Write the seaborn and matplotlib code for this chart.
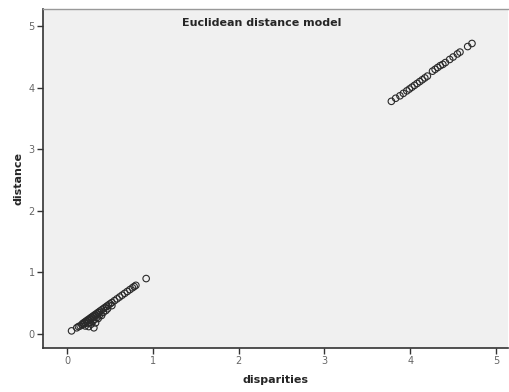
import matplotlib
matplotlib.use("Agg")
import matplotlib.pyplot as plt
import seaborn as sns
import pandas as pd

# Lower cluster (disparities, distance)
lower_x = [0.05, 0.11, 0.13, 0.15, 0.17, 0.18, 0.19, 0.20, 0.21, 0.22, 0.23, 0.24,
           0.25, 0.26, 0.27, 0.28, 0.29, 0.30, 0.31, 0.32, 0.33, 0.34, 0.35, 0.36,
           0.37, 0.38, 0.40, 0.42, 0.44, 0.46, 0.48, 0.50, 0.52, 0.55, 0.58, 0.61,
           0.64, 0.67, 0.70, 0.73, 0.76, 0.78, 0.80, 0.92,
           0.25, 0.31, 0.33, 0.21, 0.28, 0.36, 0.40, 0.24, 0.30, 0.45,
           0.27, 0.32, 0.35, 0.38, 0.42, 0.47, 0.52]
lower_y = [0.05, 0.10, 0.12, 0.13, 0.15, 0.17, 0.16, 0.19, 0.18, 0.21, 0.20, 0.23,
           0.22, 0.25, 0.24, 0.27, 0.26, 0.29, 0.28, 0.31, 0.30, 0.33, 0.32, 0.35,
           0.34, 0.37, 0.39, 0.41, 0.43, 0.45, 0.47, 0.49, 0.51, 0.54, 0.57, 0.60,
           0.63, 0.66, 0.69, 0.72, 0.75, 0.77, 0.79, 0.90,
           0.12, 0.10, 0.18, 0.13, 0.16, 0.25, 0.30, 0.17, 0.21, 0.38,
           0.19, 0.24, 0.27, 0.31, 0.35, 0.41, 0.46]

# Upper cluster
upper_x = [3.78, 3.83, 3.88, 3.92, 3.96, 3.99, 4.02, 4.05, 4.08, 4.11, 4.14, 4.17,
           4.20, 4.26, 4.29, 4.32, 4.35, 4.38, 4.41, 4.46, 4.50, 4.55, 4.58, 4.67, 4.72]
upper_y = [3.78, 3.83, 3.87, 3.91, 3.95, 3.98, 4.01, 4.04, 4.07, 4.10, 4.13, 4.16,
           4.19, 4.27, 4.30, 4.33, 4.36, 4.38, 4.41, 4.46, 4.50, 4.55, 4.58, 4.67, 4.72]

df = pd.DataFrame({
    "disparities": lower_x + upper_x,
    "distance": lower_y + upper_y,
})

sns.set_style("white")
fig = plt.figure(figsize=(5.09, 3.92), dpi=100)
ax = fig.add_axes([0.085, 0.112, 0.913, 0.865])
ax.set_facecolor("#f0f0f0")

sns.scatterplot(data=df, x="disparities", y="distance", ax=ax,
                marker="o", s=22, facecolor="none", edgecolor="#2a2a2a",
                linewidth=0.8)

ax.set_xlim(-0.28, 5.14)
ax.set_ylim(-0.23, 5.28)
ax.set_xticks([0, 1, 2, 3, 4, 5])
ax.set_yticks([0, 1, 2, 3, 4, 5])
ax.tick_params(axis="both", direction="out", length=4, width=1, colors="#333333",
               labelsize=7, labelcolor="#666666", pad=2, bottom=True, left=True)

for side in ["left", "bottom"]:
    ax.spines[side].set_color("#333333")
    ax.spines[side].set_linewidth(1.2)
ax.spines["top"].set_color("#999999")
ax.spines["top"].set_linewidth(1.0)
ax.spines["right"].set_visible(False)

ax.set_xlabel("disparities", fontsize=8, fontweight="bold", labelpad=6)
ax.set_ylabel("distance", fontsize=8, fontweight="bold", labelpad=4)
ax.text(0.469, 0.958, "Euclidean distance model", transform=ax.transAxes,
        ha="center", va="center", fontsize=8, fontweight="bold")

fig.savefig("out.png", dpi=100)
